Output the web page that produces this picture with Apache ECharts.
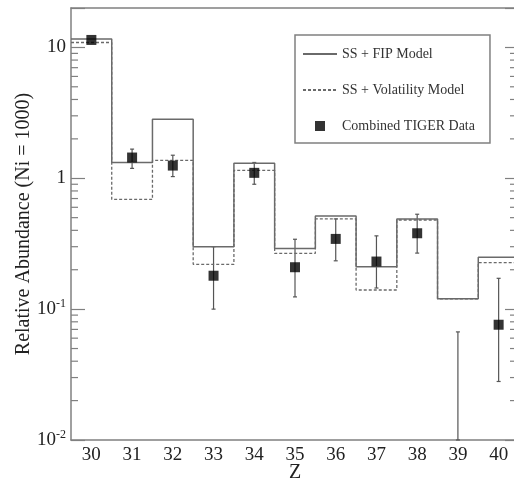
<!DOCTYPE html>
<html>
<head>
<meta charset="utf-8">
<script src="https://cdn.jsdelivr.net/npm/echarts@6/dist/echarts.min.js"></script>
<style>
html, body { margin: 0; padding: 0; background: #fff; }
#content { width: 514px; height: 485px; }
</style>
</head>
<body>
<div id="content"></div>
<script>
var zVals = [30, 31, 32, 33, 34, 35, 36, 37, 38, 39, 40];
var zLabels = ['30', '31', '32', '33', '34', '35', '36', '37', '38', '39', '40'];
var fipModel = [11.6, 1.32, 2.82, 0.30, 1.30, 0.29, 0.515, 0.211, 0.489, 0.12, 0.249];
var volModel = [10.9, 0.69, 1.37, 0.22, 1.15, 0.267, 0.489, 0.14, 0.48, 0.12, 0.227];
var tigerVals = [11.4, 1.44, 1.25, 0.18, 1.10, 0.209, 0.344, 0.231, 0.38, null, 0.076];
var tigerHigh = [null, 1.67, 1.50, 0.30, 1.32, 0.342, 0.489, 0.363, 0.531, 0.067, 0.172];
var tigerLow = [null, 1.19, 1.03, 0.10, 0.90, 0.124, 0.234, 0.145, 0.268, 0.01, 0.028];
var yMin = 0.01, yMax = 20;

var font = 'Liberation Serif';
var lineColor = '#6a6a6a';
var axisColor = '#808080';

function stepData(vals) {
    var out = [];
    zVals.forEach(function (z, i) {
        out.push([z - 0.5, vals[i]]);
        out.push([z + 0.5, vals[i]]);
    });
    return out;
}

var pointData = [];
var errData = [];
zVals.forEach(function (z, i) {
    if (tigerVals[i] != null) pointData.push([z, tigerVals[i]]);
    if (tigerHigh[i] != null) errData.push([z, tigerLow[i], tigerHigh[i]]);
});

// minor log ticks 2..9 x 10^k
var minorTicks = [];
for (var k = -2; k <= 1; k++) {
    for (var m = 2; m <= 9; m++) {
        var v = m * Math.pow(10, k);
        if (v < yMax) minorTicks.push([35, v]);
    }
}

function yLabel(value) {
    var e = Math.round(Math.log10(value));
    if (Math.abs(Math.log10(value) - e) > 1e-6) return '';
    if (e === 0) return '1';
    if (e === 1) return '10';
    return '{b|10}{s|' + e + '}';
}

var myChart = echarts.init(document.getElementById('content'));
myChart.setOption({
    animation: false,
    textStyle: { fontFamily: font },
    grid: { left: 71, top: 8, right: -5, bottom: 45, outerBoundsMode: 'none', containLabel: false },
    legend: {
        orient: 'vertical',
        left: 295,
        top: 35,
        padding: [12, 15, 10, 7],
        itemGap: 22,
        itemWidth: 34,
        itemHeight: 14,
        borderColor: axisColor,
        borderWidth: 1.5,
        textStyle: { fontFamily: font, fontSize: 14, color: '#333' },
        data: [
            { name: 'SS + FIP Model', itemStyle: { opacity: 0 } },
            { name: 'SS + Volatility Model', itemStyle: { opacity: 0 } },
            { name: 'Combined TIGER Data', icon: 'path://M0,0M34,14M12,2h10v10h-10z' }
        ]
    },
    xAxis: [
        {
            type: 'category',
            data: zLabels,
            position: 'bottom',
            name: 'Z',
            nameLocation: 'middle',
            nameGap: 23,
            nameMoveOverlap: false,
            nameTextStyle: { fontFamily: font, fontSize: 20, color: '#222' },
            axisLine: { lineStyle: { color: axisColor, width: 1.5 } },
            axisTick: { inside: true, alignWithLabel: true, length: 12, lineStyle: { color: axisColor, width: 1.2 } },
            axisLabel: { fontFamily: font, fontSize: 19, color: '#222', margin: 6 },
            splitLine: { show: false }
        },
        {
            type: 'category',
            data: zLabels,
            position: 'top',
            axisLine: { lineStyle: { color: axisColor, width: 1.5 } },
            axisTick: { inside: true, alignWithLabel: true, length: 12, lineStyle: { color: axisColor, width: 1.2 } },
            axisLabel: { show: false },
            splitLine: { show: false }
        },
        {
            type: 'value',
            min: 29.5,
            max: 40.5,
            show: false
        }
    ],
    yAxis: [
        {
            type: 'log',
            min: yMin,
            max: yMax,
            position: 'left',
            name: 'Relative Abundance (Ni = 1000)',
            nameLocation: 'middle',
            nameGap: 37,
            nameMoveOverlap: false,
            nameTextStyle: { fontFamily: font, fontSize: 20, color: '#222' },
            axisLine: { show: true, lineStyle: { color: axisColor, width: 1.5 } },
            axisTick: { inside: true, length: 14, lineStyle: { color: axisColor, width: 1.2 } },
            axisLabel: {
                formatter: yLabel,
                margin: 5,
                color: '#222',
                fontFamily: font,
                fontSize: 19,
                rich: {
                    b: { fontFamily: font, fontSize: 19, color: '#222' },
                    s: { fontFamily: font, fontSize: 12, color: '#222', verticalAlign: 'top', padding: [0, 0, 11, 0] }
                }
            },
            splitLine: { show: false }
        },
        {
            type: 'log',
            min: yMin,
            max: yMax,
            position: 'right',
            axisLine: { show: true, lineStyle: { color: axisColor, width: 1.5 } },
            axisTick: { inside: true, length: 14, lineStyle: { color: axisColor, width: 1.2 } },
            axisLabel: { show: false },
            splitLine: { show: false }
        }
    ],
    series: [
        {
            name: 'minor ticks',
            type: 'custom',
            xAxisIndex: 2,
            yAxisIndex: 0,
            silent: true,
            data: minorTicks,
            renderItem: function (params, api) {
                var cs = params.coordSys;
                var y = api.coord([api.value(0), api.value(1)])[1];
                var st = { stroke: axisColor, lineWidth: 1.2 };
                return {
                    type: 'group',
                    children: [
                        { type: 'line', shape: { x1: cs.x, y1: y, x2: cs.x + 7, y2: y }, style: st },
                        { type: 'line', shape: { x1: cs.x + cs.width - 9, y1: y, x2: cs.x + cs.width, y2: y }, style: st }
                    ]
                };
            }
        },
        {
            name: 'SS + FIP Model',
            type: 'line',
            xAxisIndex: 2,
            yAxisIndex: 0,
            data: stepData(fipModel),
            symbol: 'none',
            itemStyle: { color: lineColor },
            lineStyle: { color: lineColor, width: 1.5 }
        },
        {
            name: 'SS + Volatility Model',
            type: 'line',
            xAxisIndex: 2,
            yAxisIndex: 0,
            data: stepData(volModel),
            symbol: 'none',
            itemStyle: { color: lineColor },
            lineStyle: { color: lineColor, width: 1.3, type: [3, 2] }
        },
        {
            name: 'errors',
            type: 'custom',
            xAxisIndex: 2,
            yAxisIndex: 0,
            data: errData,
            z: 3,
            renderItem: function (params, api) {
                var lo = api.coord([api.value(0), api.value(1)]);
                var hi = api.coord([api.value(0), api.value(2)]);
                var st = { stroke: '#555', lineWidth: 1.2 };
                return {
                    type: 'group',
                    children: [
                        { type: 'line', shape: { x1: lo[0], y1: lo[1], x2: hi[0], y2: hi[1] }, style: st },
                        { type: 'line', shape: { x1: hi[0] - 2, y1: hi[1], x2: hi[0] + 2, y2: hi[1] }, style: st },
                        { type: 'line', shape: { x1: lo[0] - 2, y1: lo[1], x2: lo[0] + 2, y2: lo[1] }, style: st }
                    ]
                };
            }
        },
        {
            name: 'Combined TIGER Data',
            type: 'scatter',
            xAxisIndex: 2,
            yAxisIndex: 0,
            data: pointData,
            symbol: 'rect',
            symbolSize: 10,
            z: 4,
            itemStyle: { color: '#000' }
        }
    ]
});
</script>
</body>
</html>
